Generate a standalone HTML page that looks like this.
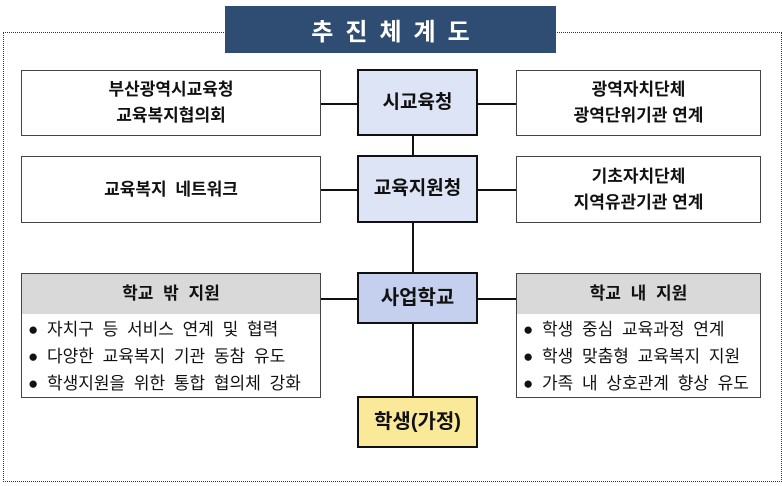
<!DOCTYPE html>
<html><head><meta charset="utf-8"><style>
body{margin:0;width:782px;height:486px;background:#fff;position:relative;overflow:hidden;font-family:"Liberation Sans","Noto Sans CJK KR","NanumGothic",sans-serif;color:#111}
.a{position:absolute;box-sizing:border-box}
.box{border:1px solid #444;background:#fff;display:flex;align-items:center;justify-content:center;text-align:center;font-size:17px;line-height:26px;font-weight:bold}
.c{border:2px solid #111;background:#dde4f5;font-size:19px;font-weight:bold}
.ln{position:absolute;background:#111}
.hd{position:absolute;left:0;right:0;top:0;height:40px;background:#d9d9d9;display:flex;align-items:center;justify-content:center;font-size:17px;font-weight:bold;word-spacing:5px}
.ul{position:absolute;left:6px;top:42px;font-size:17px;line-height:27px;white-space:nowrap;text-align:left;word-spacing:4px}
</style></head><body>
<div class="a" style="left:3px;top:32px;width:779px;height:450px;border:1px dotted #333"></div>
<div class="a" style="left:225px;top:6px;width:331px;height:47px;background:#2f4d72;color:#fff;font-size:24px;font-weight:bold;letter-spacing:12px;display:flex;align-items:center;justify-content:center;padding-left:12px">추진체계도</div>

<div class="ln" style="left:412px;top:135px;width:2px;height:262px"></div>
<div class="ln" style="left:320px;top:103px;width:38px;height:1.5px"></div>
<div class="ln" style="left:477px;top:103px;width:40px;height:1.5px"></div>
<div class="ln" style="left:320px;top:189px;width:38px;height:1.5px"></div>
<div class="ln" style="left:477px;top:189px;width:40px;height:1.5px"></div>
<div class="ln" style="left:320px;top:298px;width:38px;height:1.5px"></div>
<div class="ln" style="left:477px;top:298px;width:40px;height:1.5px"></div>

<div class="a box" style="left:21px;top:70px;width:300px;height:66px">부산광역시교육청<br>교육복지협의회</div>
<div class="a box c" style="left:357px;top:69px;width:121px;height:67px">시교육청</div>
<div class="a box" style="left:516px;top:70px;width:245px;height:66px">광역자치단체<br>광역단위기관 연계</div>

<div class="a box" style="left:21px;top:156px;width:300px;height:67px;word-spacing:4px">교육복지 네트워크</div>
<div class="a box c" style="left:357px;top:155px;width:121px;height:68px">교육지원청</div>
<div class="a box" style="left:516px;top:156px;width:245px;height:67px">기초자치단체<br>지역유관기관 연계</div>

<div class="a box" style="left:21px;top:273px;width:300px;height:125px;display:block;font-weight:normal">
<div class="hd">학교 밖 지원</div>
<div class="ul">● 자치구 등 서비스 연계 및 협력<br>● 다양한 교육복지 기관 동참 유도<br>● 학생지원을 위한 통합 협의체 강화</div></div>
<div class="a box c" style="left:357px;top:272px;width:121px;height:52px;background:#c5d0ee;font-size:20px">사업학교</div>
<div class="a box" style="left:516px;top:273px;width:245px;height:125px;display:block;font-weight:normal">
<div class="hd">학교 내 지원</div>
<div class="ul">● 학생 중심 교육과정 연계<br>● 학생 맞춤형 교육복지 지원<br>● 가족 내 상호관계 향상 유도</div></div>
<div class="a box c" style="left:357px;top:396px;width:121px;height:52px;background:#fbe99a;font-size:20px">학생(가정)</div>
</body></html>
